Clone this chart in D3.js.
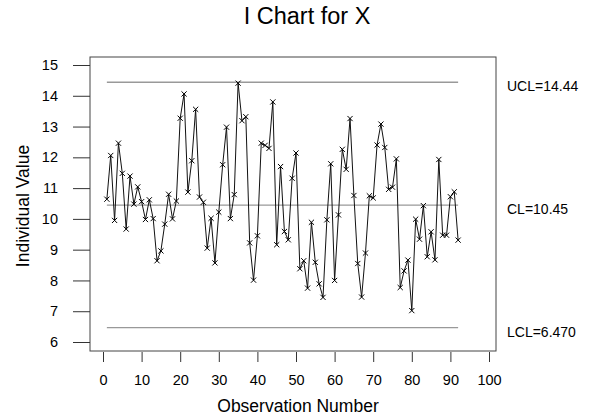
<!DOCTYPE html>
<html>
<head>
<meta charset="utf-8">
<script src="https://cdn.jsdelivr.net/npm/d3@7"></script>
<style>
  body { margin: 0; background: #fff; }
  text { font-family: "Liberation Sans", Arial, sans-serif; fill: #000; }
</style>
</head>
<body>
<div id="chart"></div>
<script>
const values = [
  10.64, 12.06, 9.95, 12.46, 11.48, 9.67, 11.39, 10.48, 11.04, 10.56,
  9.98, 10.62, 10.01, 8.64, 8.96, 9.83, 10.80, 10.00, 10.58, 13.27,
  14.06, 10.87, 11.89, 13.56, 10.71, 10.54, 9.05, 10.02, 8.57, 10.22,
  11.76, 12.98, 10.01, 10.79, 14.41, 13.19, 13.32, 9.22, 8.01, 9.45,
  12.46, 12.39, 12.29, 13.80, 9.16, 11.70, 9.59, 9.32, 11.32, 12.14,
  8.38, 8.64, 7.75, 9.89, 8.59, 7.89, 7.45, 9.97, 11.79, 8.00,
  10.13, 12.26, 11.61, 13.26, 10.76, 8.55, 7.46, 8.89, 10.75, 10.68,
  12.40, 13.08, 12.32, 10.96, 11.03, 11.95, 7.77, 8.31, 8.66, 7.02,
  9.99, 9.34, 10.43, 8.77, 9.58, 8.67, 11.93, 9.47, 9.47, 10.72,
  10.88, 9.31
];
const limitNames = ["UCL=14.44", "CL=10.45", "LCL=6.470"];
const limitValues = [14.44, 10.45, 6.47];
const xTicks = [0, 10, 20, 30, 40, 50, 60, 70, 80, 90, 100];
const yTicks = [6, 7, 8, 9, 10, 11, 12, 13, 14, 15];

const data = values.map((v, i) => [i + 1, v]);

const svg = d3.select("#chart")
.append("svg")
.attr("width", 599)
.attr("height", 420);

const xScale = d3.scaleLinear()
.domain([0, 100])
.range([103, 489]);

const yScale = d3.scaleLinear()
.domain([6, 15])
.range([342, 65]);

// plot frame
const frame = { left: 90, right: 496, top: 57, bottom: 351 };

svg.append("rect")
.attr("x", frame.left)
.attr("y", frame.top)
.attr("width", frame.right - frame.left)
.attr("height", frame.bottom - frame.top)
.attr("fill", "none")
.attr("stroke", "#444")
.attr("stroke-width", 1);

// axes
const yAxis = svg.append("g")
.attr("transform", `translate(${frame.left},0)`)
.call(d3.axisLeft(yScale).tickValues(yTicks).tickSize(17).tickPadding(15));
yAxis.select(".domain").remove();
yAxis.selectAll("line").attr("stroke", "#333");
yAxis.selectAll("text").attr("font-size", 14.5).attr("font-family", "Liberation Sans, Arial, sans-serif");

const xAxis = svg.append("g")
.attr("transform", `translate(0,${frame.bottom + 1})`)
.call(d3.axisBottom(xScale).tickValues(xTicks).tickSize(10).tickPadding(13));
xAxis.select(".domain").remove();
xAxis.selectAll("line").attr("stroke", "#333");
xAxis.selectAll("text").attr("font-size", 14.5).attr("font-family", "Liberation Sans, Arial, sans-serif");

// control limits
const first = data[0][0];
const last = data[data.length - 1][0];

svg.selectAll(".limit")
.data(limitValues)
.join("line")
.attr("class", "limit")
.attr("x1", xScale(first))
.attr("x2", xScale(last))
.attr("y1", d => yScale(d))
.attr("y2", d => yScale(d))
.attr("stroke", "#999")
.attr("stroke-width", 1.3);

svg.selectAll(".limit-label")
.data(limitValues)
.join("text")
.attr("class", "limit-label")
.attr("x", 507)
.attr("y", d => yScale(d) + 5.5)
.attr("dominant-baseline", "middle")
.attr("font-size", 14)
.text((d, i) => limitNames[i]);

// series
const line = d3.line()
.x(d => xScale(d[0]))
.y(d => yScale(d[1]));

svg.append("path")
.datum(data)
.attr("d", line)
.attr("fill", "none")
.attr("stroke", "#111")
.attr("stroke-width", 1);

const s = 2.6;
svg.selectAll(".pt")
.data(data)
.join("path")
.attr("class", "pt")
.attr("d", d => {
    const cx = xScale(d[0]), cy = yScale(d[1]);
    return `M${cx - s},${cy - s}L${cx + s},${cy + s}M${cx - s},${cy + s}L${cx + s},${cy - s}`;
})
.attr("stroke", "#000")
.attr("stroke-width", 1);

// titles
svg.append("text")
.attr("x", 307)
.attr("y", 24)
.attr("text-anchor", "middle")
.attr("font-size", 23.5)
.text("I Chart for X");

svg.append("text")
.attr("x", 298)
.attr("y", 412)
.attr("text-anchor", "middle")
.attr("font-size", 17.5)
.text("Observation Number");

svg.append("text")
.attr("transform", "translate(29,206) rotate(-90)")
.attr("text-anchor", "middle")
.attr("font-size", 17.5)
.text("Individual Value");
</script>
</body>
</html>
